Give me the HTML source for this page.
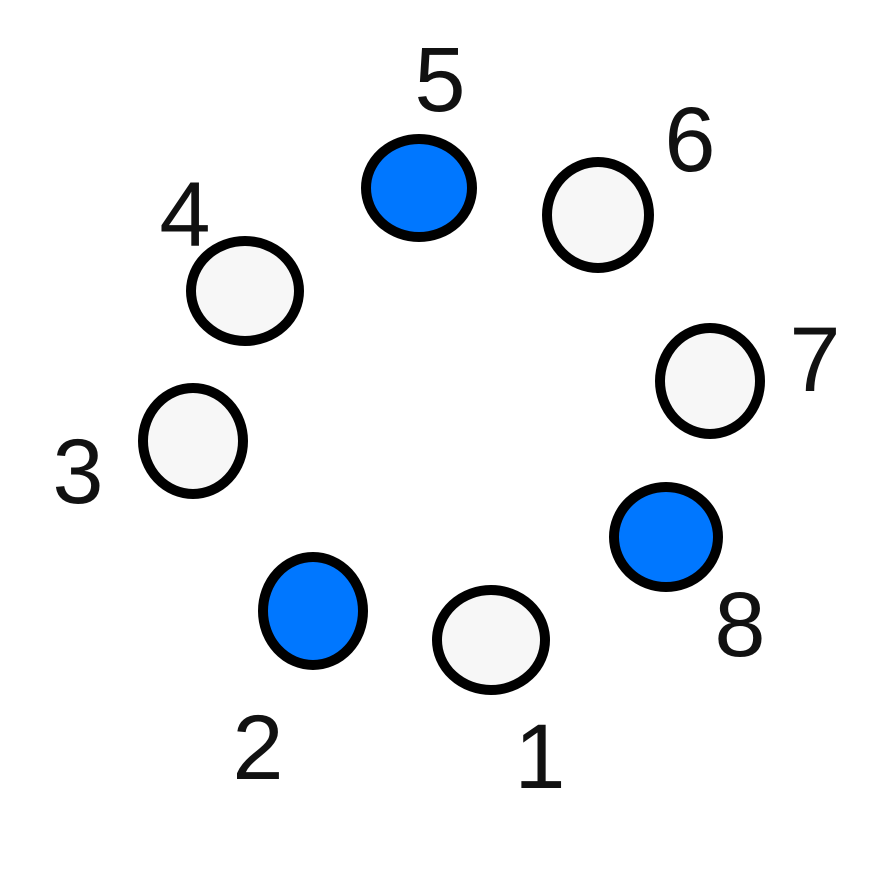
<!DOCTYPE html>
<html><head><meta charset="utf-8"><style>
html,body{margin:0;padding:0;background:#fff;}
svg{display:block}
text{font-family:"Liberation Sans",sans-serif;font-size:92px;fill:#111;text-anchor:middle;dominant-baseline:central;}
</style></head><body>
<svg width="880" height="884" viewBox="0 0 880 884" xmlns="http://www.w3.org/2000/svg">
<g stroke="#000" stroke-width="10">
<ellipse cx="419" cy="188" rx="53" ry="49" fill="#0077ff"/>
<ellipse cx="598" cy="215" rx="51" ry="53" fill="#f7f7f7"/>
<ellipse cx="245" cy="291" rx="54" ry="50" fill="#f7f7f7"/>
<ellipse cx="710" cy="381" rx="50" ry="53" fill="#f7f7f7"/>
<ellipse cx="193" cy="441" rx="50" ry="53" fill="#f7f7f7"/>
<ellipse cx="666" cy="537" rx="52" ry="50" fill="#0077ff"/>
<ellipse cx="313" cy="611" rx="50" ry="54" fill="#0077ff"/>
<ellipse cx="491" cy="640" rx="54" ry="50" fill="#f7f7f7"/>
</g>
<text x="440" y="80">5</text>
<text x="690" y="140">6</text>
<text x="185" y="215">4</text>
<text x="815" y="360">7</text>
<text x="78" y="472">3</text>
<text x="740" y="625">8</text>
<text x="258" y="748">2</text>
<text x="540" y="757">1</text>
</svg>
</body></html>
